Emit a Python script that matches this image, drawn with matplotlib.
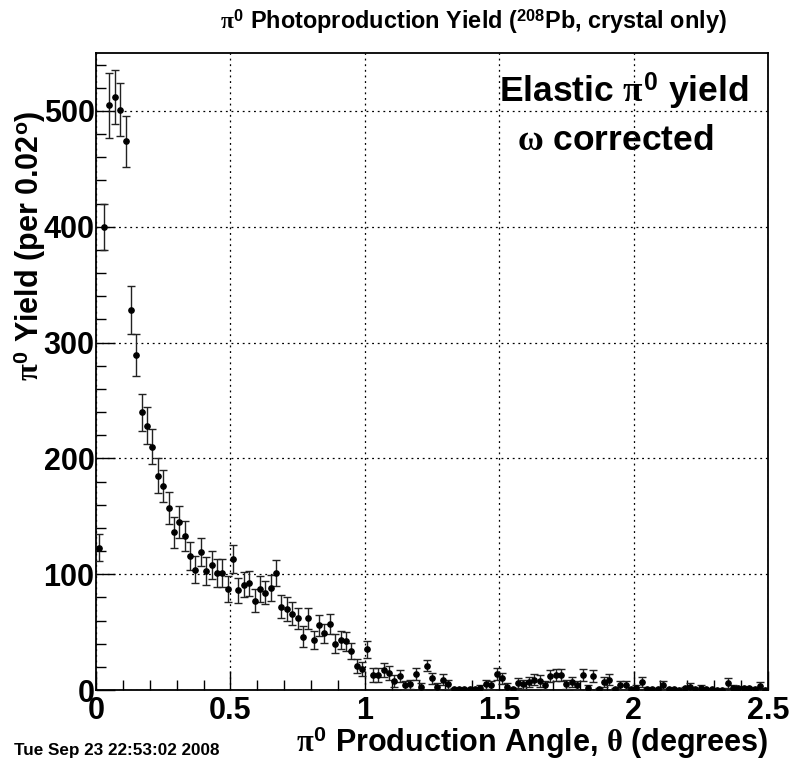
import numpy as np
import matplotlib
matplotlib.use("Agg")
import matplotlib.pyplot as plt

plt.rcParams['font.family'] = ['Liberation Sans', 'DejaVu Sans']
plt.rcParams['font.weight'] = 'bold'
plt.rcParams['mathtext.fontset'] = 'custom'
plt.rcParams['mathtext.rm'] = 'Liberation Sans:bold'
plt.rcParams['mathtext.bf'] = 'Liberation Sans:bold'
plt.rcParams['mathtext.it'] = 'Liberation Serif'

bin_width = 0.02
yields = [123, 400, 505, 512, 501, 474, 328, 289, 240, 228,
          210, 185, 176, 157, 136, 145, 133, 116, 104, 119,
          103, 108, 101, 101, 87, 113, 86, 91, 92, 77,
          87, 84, 88, 101, 72, 70, 66, 62, 46, 62,
          43, 56, 49, 57, 40, 43, 42, 34, 21, 18,
          35, 13, 13, 17, 15, 8, 12, 4, 5, 14,
          3, 21, 10, 3, 9, 5, 1, 1, 1, 1,
          1, 2, 5, 4, 14, 10, 3, 1, 6, 5,
          7, 9, 8, 4, 12, 13, 13, 5, 7, 4,
          13, 2, 12, 1, 7, 9, 1, 4, 4, 1,
          2, 7, 1, 1, 1, 4, 1, 1, 0, 1.5,
          3, 0.5, 2, 1, 0.5, 0, 0, 6, 2, 1.5,
          1.5, 1.5, 1, 3.5, 0]
errors = [12, 20, 28, 23, 23, 22, 21, 18, 16, 16,
          15, 15, 14, 14, 13, 14, 13, 12, 12, 12,
          12, 12, 12, 12, 11, 12, 11, 11, 11, 10,
          11, 10, 11, 11, 10, 10, 10, 9, 9, 9,
          8, 9, 8, 9, 8, 8, 8, 7, 6, 6,
          7, 6, 6, 6, 6, 5, 5, 4, 4, 5,
          3, 5, 5, 3, 5, 4, 1, 1, 1, 1,
          1, 2, 4, 4, 5, 5, 3, 1, 4, 4,
          4, 5, 5, 4, 5, 5, 5, 4, 4, 4,
          5, 2, 5, 1, 4, 5, 1, 4, 4, 1,
          2, 4, 1, 1, 1, 4, 1, 1, 0, 1,
          3, 0.5, 2, 1, 0.5, 0, 0, 4, 2, 1,
          1, 1, 1, 3, 0]

x_major = [0, 0.5, 1, 1.5, 2, 2.5]
x_labels = ['0', '0.5', '1', '1.5', '2', '2.5']
y_major = [0, 100, 200, 300, 400, 500]
y_labels = ['0', '100', '200', '300', '400', '500']

centers = bin_width * (np.arange(len(yields)) + 0.5)

fig = plt.figure(figsize=(7.89, 7.67), dpi=100)
ax = fig.add_axes([96/789, 1-690/767, 672/789, 637/767])

ax.errorbar(centers, yields, yerr=errors, fmt='o', color='black',
            ms=3.8, elinewidth=1.0, capsize=3.2, capthick=1.0,
            ecolor='#222222', zorder=3)

ax.set_xlim(0, 2.5)
ax.set_ylim(0, 550)
ax.set_xticks(x_major)
ax.set_xticklabels(x_labels)
ax.set_yticks(y_major)
ax.set_yticklabels(y_labels)
ax.set_xticks(np.arange(0, 2.5001, 0.1), minor=True)
ax.set_yticks(np.arange(0, 550.01, 20), minor=True)
ax.tick_params(which='both', direction='in', top=False, right=False,
               labelsize=22, width=1.0, color='black')
ax.tick_params(which='major', length=14)
ax.tick_params(which='minor', length=7)
ax.tick_params(axis='x', pad=4)
ax.tick_params(axis='y', pad=1)
narrow = ['Liberation Sans Narrow', 'Liberation Sans', 'DejaVu Sans']
for lab in ax.get_xticklabels() + ax.get_yticklabels():
    lab.set_fontweight('bold')
    lab.set_family(narrow)

ax.grid(True, which='major', linestyle=(0, (1.5, 3)), color='black', lw=0.9)
for sp in ax.spines.values():
    sp.set_linewidth(1.3)
    sp.set_color('black')

ax.set_xlabel(r'$\pi^{0}$ Production Angle, $\theta$ (degrees)', fontsize=22,
              fontweight='bold', ha='right', va='center')
ax.xaxis.set_label_coords(1.0, (690-743)/637)
ax.set_ylabel(r'$\pi^{0}$ Yield (per 0.02$^{\mathbf{o}}$)', fontsize=22,
              fontweight='bold', va='center')
ax.yaxis.set_label_coords((30-96)/672, (690-246)/637)

ax.text((624-96)/672, (690-92)/637, r'Elastic $\pi^{0}$ yield', transform=ax.transAxes,
        fontsize=25.5, fontweight='bold', ha='center', va='center')
ax.text((615-96)/672, (690-140)/637, r'$\omega$ corrected', transform=ax.transAxes,
        fontsize=25.5, fontweight='bold', ha='center', va='center')

fig.text(473/789, 1-22/767, r'$\pi^{0}$ Photoproduction Yield ($^{208}$Pb, crystal only)',
         fontsize=16.9, fontweight='bold', ha='center', va='center')
fig.text(14/789, 1-751/767, 'Tue Sep 23 22:53:02 2008', fontsize=12.3,
         fontweight='bold', ha='left', va='center')

fig.savefig('out.png', dpi=100)
